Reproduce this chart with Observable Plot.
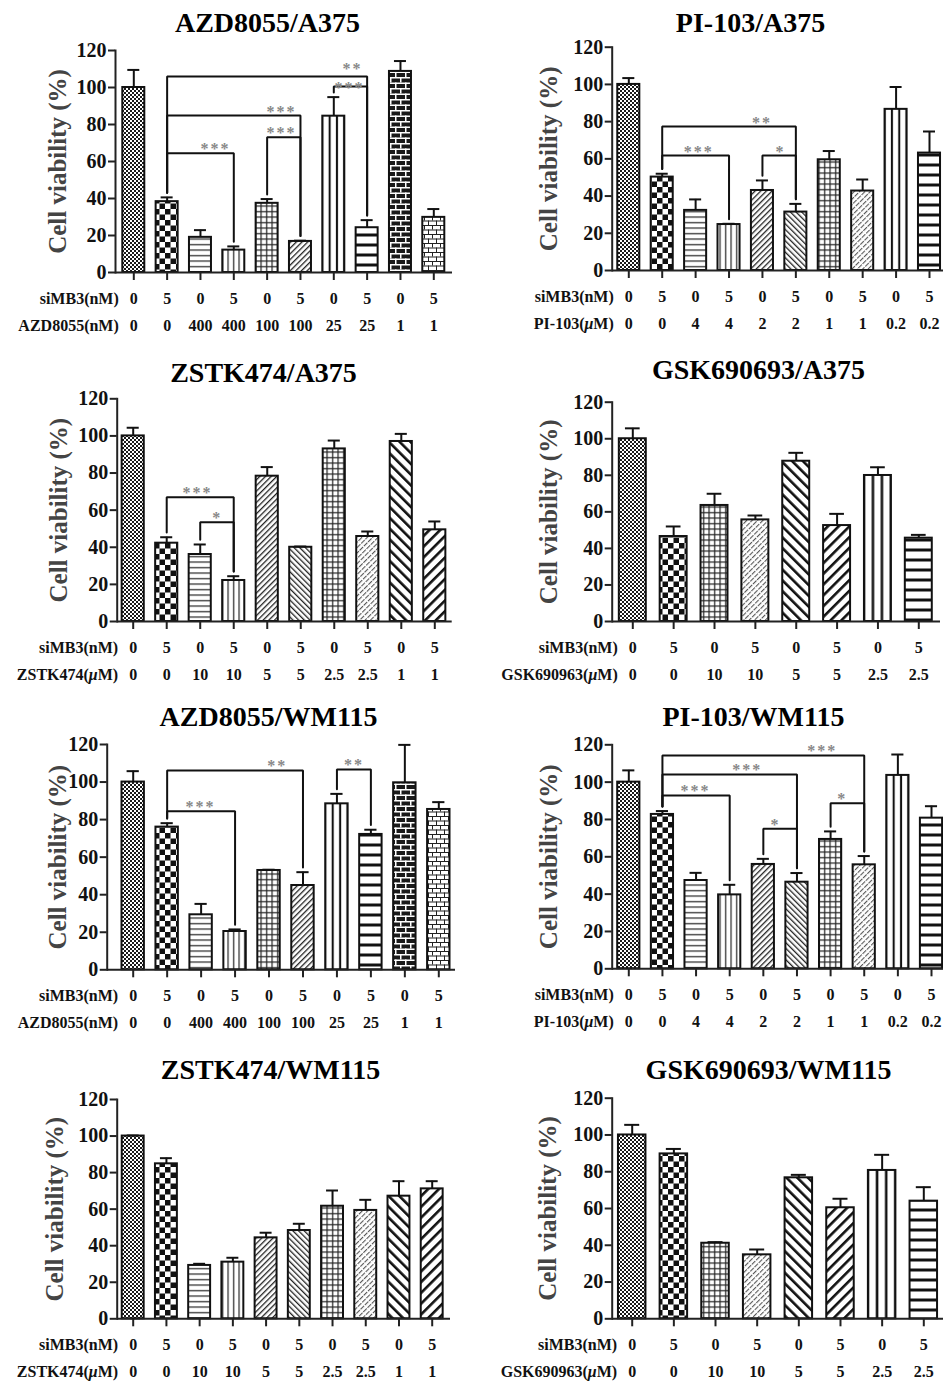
<!DOCTYPE html>
<html><head><meta charset="utf-8">
<script src="https://cdn.jsdelivr.net/npm/d3@7"></script>
<script src="https://cdn.jsdelivr.net/npm/@observablehq/plot@0.6"></script>
<style>
html,body{margin:0;padding:0;background:#fff;overflow:hidden;}
#wrap{position:relative;width:943px;height:1381px;overflow:hidden;background:#fff;}
#wrap > svg{position:absolute;}
</style></head><body>
<svg width="0" height="0" style="position:absolute">
<defs>
 <pattern id="p-fine" patternUnits="userSpaceOnUse" width="4" height="4">
  <rect width="4" height="4" fill="#fff"/><rect width="2" height="2" fill="#1a1a1a"/><rect x="2" y="2" width="2" height="2" fill="#1a1a1a"/>
 </pattern>
 <pattern id="p-checker" patternUnits="userSpaceOnUse" width="11" height="11">
  <rect width="11" height="11" fill="#fff"/><rect width="5.5" height="5.5" fill="#111"/><rect x="5.5" y="5.5" width="5.5" height="5.5" fill="#111"/>
 </pattern>
 <pattern id="p-hline" patternUnits="userSpaceOnUse" width="6" height="5.5">
  <rect width="6" height="5.5" fill="#fff"/><rect y="2" width="6" height="1.2" fill="#222"/>
 </pattern>
 <pattern id="p-vline" patternUnits="userSpaceOnUse" width="5.5" height="6">
  <rect width="5.5" height="6" fill="#fff"/><rect x="2" width="1.2" height="6" fill="#222"/>
 </pattern>
 <pattern id="p-grid" patternUnits="userSpaceOnUse" width="5.5" height="5.5">
  <rect width="5.5" height="5.5" fill="#fff"/><rect y="2" width="5.5" height="1.2" fill="#222"/><rect x="2" width="1.2" height="5.5" fill="#222"/>
 </pattern>
 <pattern id="p-diag" patternUnits="userSpaceOnUse" width="4" height="4" patternTransform="rotate(45)">
  <rect width="4" height="4" fill="#fff"/><rect width="1.3" height="4" fill="#222"/>
 </pattern>
 <pattern id="p-bdiag" patternUnits="userSpaceOnUse" width="4" height="4" patternTransform="rotate(-45)">
  <rect width="4" height="4" fill="#fff"/><rect width="1.3" height="4" fill="#222"/>
 </pattern>
 <pattern id="p-diagLight" patternUnits="userSpaceOnUse" width="3.8" height="6" patternTransform="rotate(45)">
  <rect width="3.8" height="6" fill="#fff"/><rect width="1.1" height="5" fill="#555"/>
 </pattern>
 <pattern id="p-thickDiag" patternUnits="userSpaceOnUse" width="7.6" height="7.6" patternTransform="rotate(45)">
  <rect width="7.6" height="7.6" fill="#fff"/><rect width="2.6" height="7.6" fill="#111"/>
 </pattern>
 <pattern id="p-thickBdiag" patternUnits="userSpaceOnUse" width="7.6" height="7.6" patternTransform="rotate(-45)">
  <rect width="7.6" height="7.6" fill="#fff"/><rect width="2.6" height="7.6" fill="#111"/>
 </pattern>
 <pattern id="p-thickV" patternUnits="objectBoundingBox" patternContentUnits="objectBoundingBox" x="-0.16667" y="0" width="0.33333" height="1">
  <rect width="0.33333" height="1" fill="#fff"/><rect x="0.12" width="0.093" height="1" fill="#111"/>
 </pattern>
 <pattern id="p-thickH" patternUnits="userSpaceOnUse" width="10" height="10">
  <rect width="10" height="10" fill="#fff"/><rect y="3.5" width="10" height="3" fill="#111"/>
 </pattern>
 <pattern id="p-brickDark" patternUnits="userSpaceOnUse" width="10" height="11">
  <rect width="10" height="11" fill="#1a1a1a"/>
  <rect width="10" height="1.5" fill="#fff"/><rect y="5.5" width="10" height="1.5" fill="#fff"/>
  <rect width="1.5" height="5.5" fill="#fff"/><rect x="5" y="5.5" width="1.5" height="5.5" fill="#fff"/>
 </pattern>
 <pattern id="p-brickLight" patternUnits="userSpaceOnUse" width="8" height="9">
  <rect width="8" height="9" fill="#fff"/>
  <rect width="8" height="1" fill="#222"/><rect y="4.5" width="8" height="1" fill="#222"/>
  <rect width="1" height="4.5" fill="#222"/><rect x="4" y="4.5" width="1" height="4.5" fill="#222"/>
 </pattern>
</defs></svg>
<div id="wrap"></div>
<script>
// ---------- data ----------
const siMB3_10 = ["0","5","0","5","0","5","0","5","0","5"];
const siMB3_8  = ["0","5","0","5","0","5","0","5"];
const azdDose  = ["0","0","400","400","100","100","25","25","1","1"];
const piDose   = ["0","0","4","4","2","2","1","1","0.2","0.2"];
const zstkDose = ["0","0","10","10","5","5","2.5","2.5","1","1"];
const gskDose  = ["0","0","10","10","5","5","2.5","2.5"];

const azdA375Mean = [100, 38.3, 19, 12.1, 37.4, 16.8, 84.5, 24.2, 108.7, 29.8];
const azdA375Err  = [9.5, 2.3, 3.9, 2, 2.3, 0.4, 10.3, 4.1, 5.6, 4.5];
const piA375Mean  = [100, 50.2, 32.3, 24.7, 43, 31.4, 59.5, 42.7, 86.6, 63.1];
const piA375Err   = [3.4, 1.8, 5.9, 0.4, 5.4, 4.4, 4.7, 6.2, 12, 11.6];
const zstkA375Mean = [100, 42.2, 36.1, 22.1, 78.3, 40, 93, 45.8, 97, 49.4];
const zstkA375Err  = [4.4, 3.2, 5.4, 2.3, 4.9, 0.4, 4.5, 2.7, 4.1, 4.5];
const gskA375Mean = [100, 46.5, 63.5, 55.6, 87.7, 52.5, 79.9, 45.6];
const gskA375Err  = [5.7, 5.5, 6.4, 2.4, 4.6, 6.4, 4.5, 1.8];
const azdWM115Mean = [100, 76, 29.3, 20.4, 52.9, 44.9, 88.4, 72.1, 99.6, 85.4];
const azdWM115Err  = [5.8, 2.1, 5.8, 1.1, 0.4, 7.1, 5.3, 2.5, 20.2, 3.9];
const piWM115Mean  = [100, 82.7, 47.3, 39.6, 55.9, 46.4, 69.3, 55.7, 103.6, 80.7];
const piWM115Err   = [6.3, 1.8, 4.1, 5.4, 3, 4.9, 4.3, 4.7, 11.2, 6.4];
const zstkWM115Mean = [100, 84.8, 29.2, 31, 44.3, 48.3, 61.6, 59.3, 67.1, 71.1];
const zstkWM115Err  = [0.3, 3.1, 0.9, 2.4, 2.8, 3.7, 8.6, 5.8, 8.2, 4.2];
const gskWM115Mean = [100, 89.7, 41.1, 34.8, 76.7, 60.4, 80.7, 64];
const gskWM115Err  = [5.5, 2.7, 0.6, 2.9, 1.6, 4.9, 8.5, 7.6];

// significance brackets: [from bar, to bar, level, label, star position (bar index), star level (optional)]
const azdA375Sig = [[1,3,64.4,"***",2.45],[4,5,73.1,"***",4.43],[1,5,84.8,"***",4.43],[1,7,106,"**",6.56,110],[6,7,100.5,"***",6.47,100]];
const piA375Sig  = [[1,3,61.8,"***",2.09],[1,5,77.4,"**",3.99],[4,5,61.8,"*",4.54]];
const zstkA375Sig = [[1,3,67,"***",1.92],[2,3,53.5,"*",2.51]];
const azdWM115Sig = [[1,3,84.5,"***",1.98],[1,5,106.2,"**",4.24],[6,7,106.7,"**",6.5]];
const piWM115Sig  = [[1,3,92.9,"***",1.98],[1,5,104.1,"***",3.52],[1,7,114.3,"***",5.75],[4,5,75,"*",4.36],[6,7,88.75,"*",6.35]];

const yTicks = [0, 20, 40, 60, 80, 100, 120];

// ---------- styles (bar fill patterns) ----------
const patAZD  = ["fine","checker","hline","vline","grid","diag","thickV","thickH","brickDark","brickLight"];
const patPI   = ["fine","checker","hline","vline","diag","bdiag","grid","diagLight","thickV","thickH"];
const patZSTK = ["fine","checker","hline","vline","diag","bdiag","grid","diagLight","thickBdiag","thickDiag"];
const patGSK  = ["fine","checker","grid","diagLight","thickBdiag","thickDiag","thickV","thickH"];

// ---------- panel layout ----------
const panels = [
  {title:"AZD8055/A375", drug:"AZD8055(nM)", mean:azdA375Mean, err:azdA375Err, si:siMB3_10, dose:azdDose, sig:azdA375Sig, pat:patAZD,
   L:{left:0, top:0, w:470, h:345, axisX:115, fr:452, y120:50, y0:272, c0:133.3, c1:433.3, titleX:267, titleY:23, labelX:57}},
  {title:"PI-103/A375", drug:"PI-103(μM)", mean:piA375Mean, err:piA375Err, si:siMB3_10, dose:piDose, sig:piA375Sig, pat:patPI,
   L:{left:470, top:0, w:473, h:345, axisX:141.7, fr:473, y120:46.7, y0:270, c0:158.3, c1:459, titleX:280, titleY:23, labelX:78}},
  {title:"ZSTK474/A375", drug:"ZSTK474(μM)", mean:zstkA375Mean, err:zstkA375Err, si:siMB3_10, dose:zstkDose, sig:zstkA375Sig, pat:patZSTK,
   L:{left:0, top:345, w:470, h:345, axisX:116.7, fr:451.7, y120:53.3, y0:276, c0:132.7, c1:434.3, titleX:263, titleY:28, labelX:58}},
  {title:"GSK690693/A375", drug:"GSK690963(μM)", mean:gskA375Mean, err:gskA375Err, si:siMB3_8, dose:gskDose, sig:[], pat:patGSK,
   L:{left:470, top:345, w:473, h:345, axisX:141.7, fr:470, y120:56.7, y0:276, c0:162.3, c1:448.3, titleX:288, titleY:25, labelX:78}},
  {title:"AZD8055/WM115", drug:"AZD8055(nM)", mean:azdWM115Mean, err:azdWM115Err, si:siMB3_10, dose:azdDose, sig:azdWM115Sig, pat:patAZD,
   L:{left:0, top:690, w:470, h:345, axisX:106.7, fr:455, y120:54, y0:279.3, c0:132.7, c1:438.3, titleX:268, titleY:27, labelX:57}},
  {title:"PI-103/WM115", drug:"PI-103(μM)", mean:piWM115Mean, err:piWM115Err, si:siMB3_10, dose:piDose, sig:piWM115Sig, pat:patPI,
   L:{left:470, top:690, w:473, h:345, axisX:141.7, fr:473, y120:54.3, y0:278.3, c0:158.3, c1:461, titleX:283, titleY:27, labelX:78}},
  {title:"ZSTK474/WM115", drug:"ZSTK474(μM)", mean:zstkWM115Mean, err:zstkWM115Err, si:siMB3_10, dose:zstkDose, sig:[], pat:patZSTK,
   L:{left:0, top:1035, w:470, h:346, axisX:116.7, fr:450, y120:64, y0:283.3, c0:132.7, c1:431.7, titleX:270, titleY:35, labelX:55}},
  {title:"GSK690693/WM115", drug:"GSK690963(μM)", mean:gskWM115Mean, err:gskWM115Err, si:siMB3_8, dose:gskDose, sig:[], pat:patGSK,
   L:{left:470, top:1035, w:473, h:346, axisX:141.7, fr:473, y120:62.7, y0:283.3, c0:161.7, c1:453.3, titleX:298, titleY:35, labelX:77}}
];

const FONT = "'Liberation Serif','Times New Roman',serif";
const wrap = document.getElementById("wrap");

function italicMu(svg) {
  svg.querySelectorAll("text").forEach(t => {
    if (t.children.length === 0 && t.textContent.includes("μ")) {
      const parts = t.textContent.split("μ");
      t.textContent = "";
      parts.forEach((p, k) => {
        if (k > 0) {
          const ts = document.createElementNS("http://www.w3.org/2000/svg", "tspan");
          ts.setAttribute("font-style", "italic");
          ts.textContent = "μ";
          t.appendChild(ts);
        }
        if (p) t.appendChild(document.createTextNode(p));
      });
    }
  });
}

for (const P of panels) {
  const L = P.L;
  const n = P.mean.length;
  const bw = 0.33, cap = 0.18;
  const bars = d3.range(n).map(i => ({i, v: P.mean[i], e: P.err[i], fill: `url(#p-${P.pat[i]})`, si: P.si[i], dose: P.dose[i]}));
  const legEnd = i => P.mean[i] + P.err[i] + 2.5;
  const brLines = P.sig.flatMap((b, k) => [
    {k, x: b[0], y: legEnd(b[0])}, {k, x: b[0], y: b[2]},
    {k, x: b[1], y: b[2]}, {k, x: b[1], y: legEnd(b[1])}
  ]);
  const svg = Plot.plot({
    width: L.w, height: L.h,
    marginLeft: L.axisX, marginRight: L.w - L.fr, marginTop: L.y120, marginBottom: L.h - L.y0,
    x: {domain: [0, n - 1], range: [L.c0, L.c1], axis: null},
    y: {domain: [0, 120], axis: null},
    color: {type: "identity"},
    style: {fontFamily: FONT, fontWeight: "bold", background: "transparent", overflow: "visible", color: "#111"},
    marks: [
      Plot.rect(bars, {x1: d => d.i - bw, x2: d => d.i + bw, y1: 0, y2: "v", fill: "fill", stroke: "#111", strokeWidth: 2}),
      Plot.ruleX(bars, {x: "i", y1: "v", y2: d => d.v + d.e, stroke: "#111", strokeWidth: 2}),
      Plot.ruleY(bars, {y: d => d.v + d.e, x1: d => d.i - cap, x2: d => d.i + cap, stroke: "#111", strokeWidth: 2}),
      Plot.line(brLines, {x: "x", y: "y", z: "k", stroke: "#111", strokeWidth: 2, strokeLinejoin: "miter", curve: "linear"}),
      Plot.text(P.sig, {x: b => b[4], y: b => (b[5] ?? b[2] + 2.2), text: b => b[3], fontSize: 16, fill: "#888", lineAnchor: "middle", fontWeight: "bold", className: "stars"}),
      Plot.ruleY([0], {stroke: "#222", strokeWidth: 2}),
      Plot.frame({anchor: "left", stroke: "#222", strokeWidth: 2}),
      Plot.axisY({ticks: yTicks, tickSize: 7, tickPadding: 2, fontSize: 20, tickFormat: d => String(d), label: null, stroke: "#222", strokeWidth: 2, fill: "#111"}),
      Plot.axisX({ticks: d3.range(n), tickSize: 8, tickFormat: () => "", label: null, stroke: "#222", strokeWidth: 2}),
      Plot.text([P.title], {frameAnchor: "top-left", dx: L.titleX - L.axisX, dy: L.titleY - L.y120, text: d => d, fontSize: 28, textAnchor: "middle", lineAnchor: "middle", fill: "#000"}),
      Plot.text(["Cell viability (%)"], {frameAnchor: "left", rotate: -90, dx: L.labelX - L.axisX, text: d => d, fontSize: 25, textAnchor: "middle", lineAnchor: "middle", fill: "#444"}),
      Plot.text([0], {x: d => d, frameAnchor: "bottom", dy: 26, dx: -15, text: () => "siMB3(nM)", textAnchor: "end", lineAnchor: "middle", fontSize: 16, fill: "#111"}),
      Plot.text([0], {x: d => d, frameAnchor: "bottom", dy: 53, dx: -15, text: () => P.drug, textAnchor: "end", lineAnchor: "middle", fontSize: 16, fill: "#111"}),
      Plot.text(bars, {x: "i", frameAnchor: "bottom", dy: 26, text: "si", lineAnchor: "middle", fontSize: 16, fill: "#111"}),
      Plot.text(bars, {x: "i", frameAnchor: "bottom", dy: 53, text: "dose", lineAnchor: "middle", fontSize: 16, fill: "#111"})
    ]
  });
  svg.style.left = L.left + "px";
  svg.style.top = L.top + "px";
  svg.querySelectorAll("g.stars text, .stars text").forEach(t => t.setAttribute("letter-spacing", "2"));
  italicMu(svg);
  wrap.appendChild(svg);
}
</script>
</body></html>
